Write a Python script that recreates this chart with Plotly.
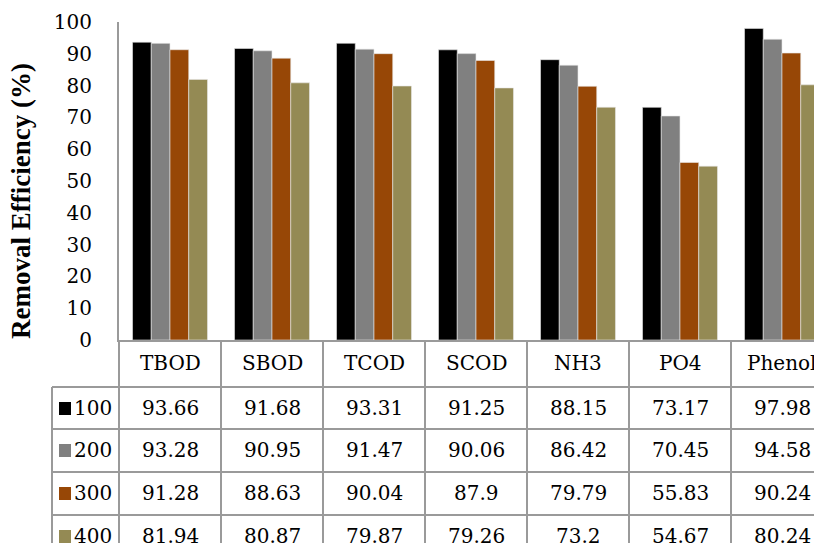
import plotly.graph_objects as go

categories = ["TBOD", "SBOD", "TCOD", "SCOD", "NH3", "PO4", "Phenol"]
series_names = ["100", "200", "300", "400"]
vals_100 = [93.66, 91.68, 93.31, 91.25, 88.15, 73.17, 97.98]
vals_200 = [93.28, 90.95, 91.47, 90.06, 86.42, 70.45, 94.58]
vals_300 = [91.28, 88.63, 90.04, 87.9, 79.79, 55.83, 90.24]
vals_400 = [81.94, 80.87, 79.87, 79.26, 73.2, 54.67, 80.24]
y_ticks = [0, 10, 20, 30, 40, 50, 60, 70, 80, 90, 100]

series_vals = [vals_100, vals_200, vals_300, vals_400]
colors = ["#000000", "#808080", "#974706", "#948A54"]

W, H = 814, 543
ML, MR, MT, MB = 119, 0, 22, 203
PW, PH = W - ML - MR, H - MT - MB
cat_px = 102.0
x0 = -0.5
x1 = x0 + PW / cat_px

FONT = "DejaVu Serif"
TITLE_FONT = "Times New Roman, Liberation Serif, DejaVu Serif, serif"
GRID = "#9A9A9A"


def px2x(px):
    return (px - ML) / PW


def py2y(py):
    return (H - MB - py) / PH


def cx2paper(c):
    return (c - x0) / (x1 - x0)


fig = go.Figure()
xs = list(range(len(categories)))
for name, vals, col in zip(series_names, series_vals, colors):
    fig.add_trace(go.Bar(x=xs, y=vals, name=name, marker=dict(color=col, line=dict(width=0.6, color="#E8E8E8")),
                         showlegend=False))

shapes = []
line = dict(color=GRID, width=2)
bottom = py2y(H + 20)
shapes.append(dict(type="line", xref="paper", yref="paper", x0=px2x(119), x1=px2x(119),
                   y0=0, y1=bottom, line=line))
for i in range(len(categories) - 1):
    xp = cx2paper(i + 0.5)
    shapes.append(dict(type="line", xref="paper", yref="paper", x0=xp, x1=xp,
                       y0=0, y1=bottom, line=line))
shapes.append(dict(type="line", xref="paper", yref="paper", x0=px2x(52), x1=px2x(52),
                   y0=py2y(387), y1=bottom, line=line))
for py in [387, 429, 472, 515]:
    shapes.append(dict(type="line", xref="paper", yref="paper", x0=px2x(52), x1=1.05,
                       y0=py2y(py), y1=py2y(py), line=line))

TS = 20
row_centers = [408, 450, 493, 536]
annotations = []
for i, c in enumerate(categories):
    annotations.append(dict(x=i, y=py2y(363), xref="x", yref="paper", text=c, showarrow=False,
                            font=dict(family=FONT, size=TS, color="black"), xanchor="center", yanchor="middle"))
for r, (name, vals, col) in enumerate(zip(series_names, series_vals, colors)):
    yc = row_centers[r]
    for i, v in enumerate(vals):
        annotations.append(dict(x=i, y=py2y(yc), xref="x", yref="paper", text=f"{v:g}", showarrow=False,
                                font=dict(family=FONT, size=TS, color="black"), xanchor="center", yanchor="middle"))
    annotations.append(dict(x=px2x(114), y=py2y(yc), xref="paper", yref="paper", text=name, showarrow=False,
                            font=dict(family=FONT, size=TS, color="black"), xanchor="right", yanchor="middle"))
    shapes.append(dict(type="rect", xref="paper", yref="paper", x0=px2x(59), x1=px2x(71),
                       y0=py2y(yc + 7), y1=py2y(yc - 6), fillcolor=col, line=dict(width=0)))

annotations.append(dict(x=px2x(21), y=py2y(201), xref="paper", yref="paper", text="<b>Removal Efficiency (%)</b>",
                        showarrow=False, textangle=-90, font=dict(family=TITLE_FONT, size=27, color="black"),
                        xanchor="center", yanchor="middle"))

fig.update_layout(
    width=W, height=H,
    margin=dict(l=ML, r=MR, t=MT, b=MB, pad=0),
    paper_bgcolor="white", plot_bgcolor="white",
    font=dict(family=FONT),
    barmode="group", bargap=0.265, bargroupgap=0,
    shapes=shapes, annotations=annotations,
    xaxis=dict(range=[x0, x1], showticklabels=False, showgrid=False, zeroline=False,
               showline=True, linecolor=GRID, linewidth=2, ticks=""),
    yaxis=dict(range=[0, 100], tickvals=y_ticks, showgrid=False, zeroline=False,
               showline=True, linecolor=GRID, linewidth=2, ticks="",
               ticklabelstandoff=21, tickfont=dict(family=FONT, size=20, color="black")),
)

fig.write_html("out.html")
